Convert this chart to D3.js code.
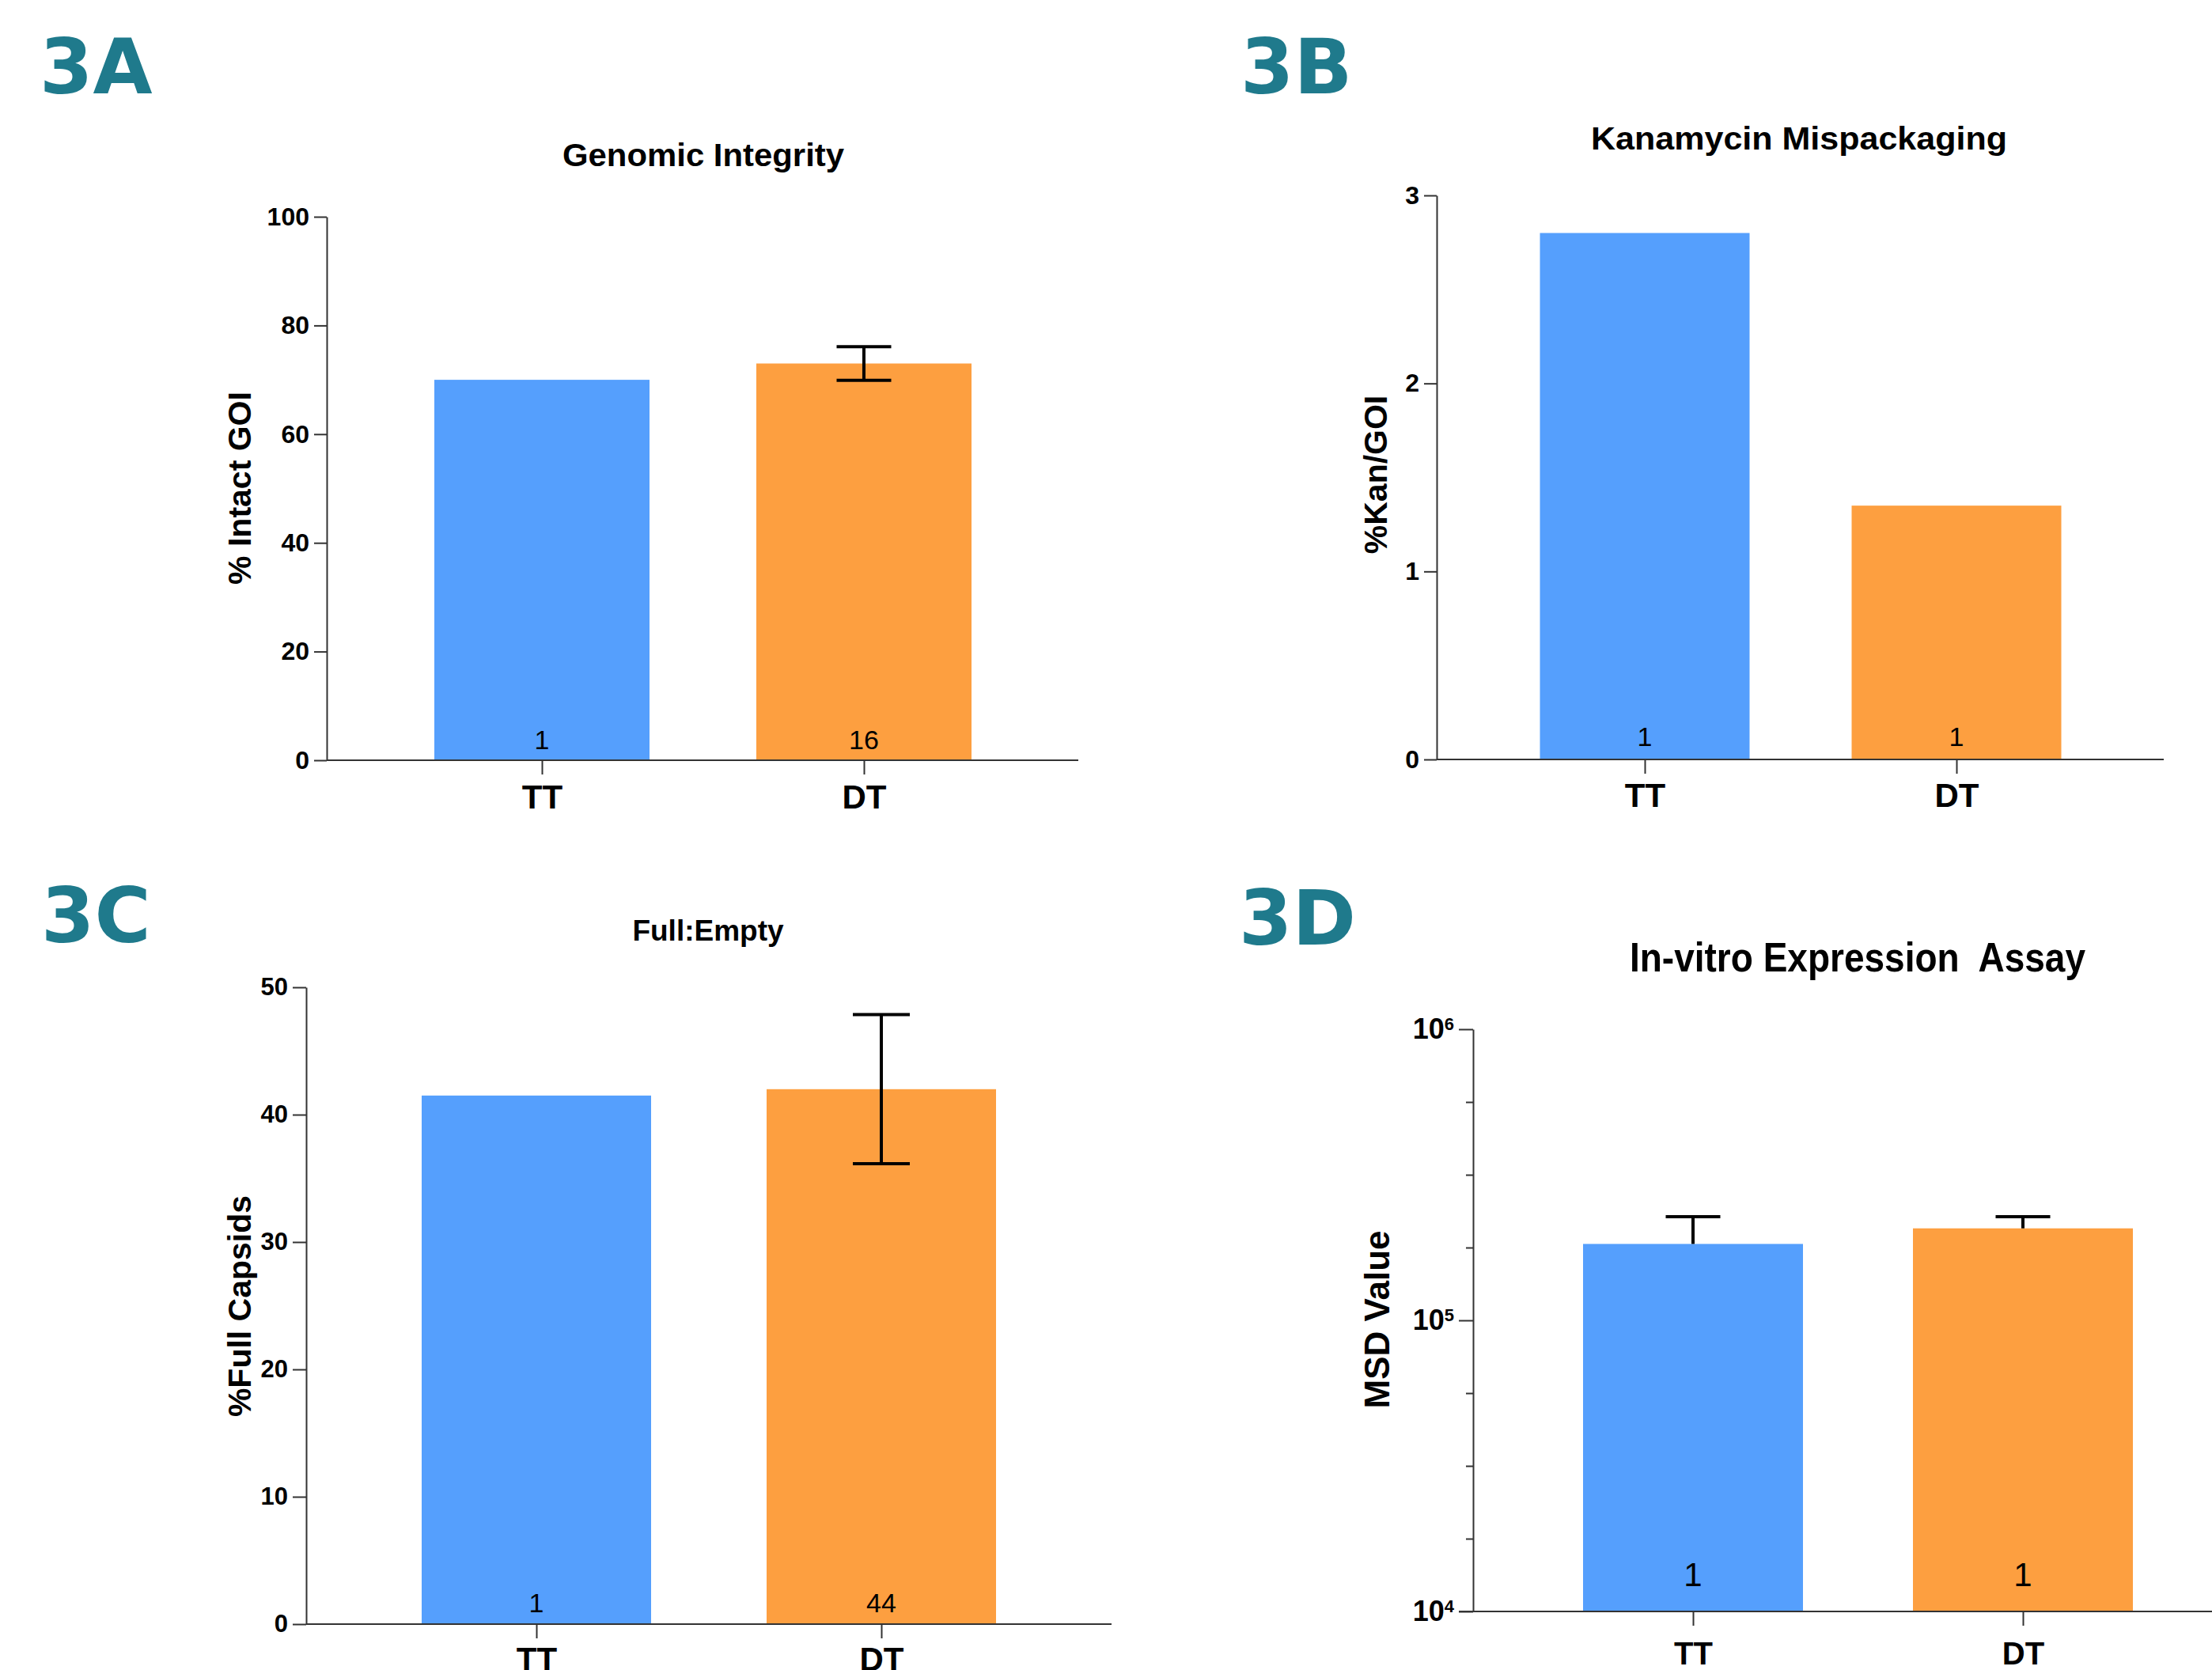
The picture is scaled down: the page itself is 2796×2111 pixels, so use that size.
<!DOCTYPE html>
<html>
<head>
<meta charset="utf-8">
<script src="https://cdn.jsdelivr.net/npm/d3@7"></script>
<style>
  body { margin: 0; background: #fff; }
  svg { display: block; }
  text { font-family: "Liberation Sans", Arial, sans-serif; fill: #000; }
  .panel-tag { font-family: "DejaVu Sans", sans-serif; font-weight: bold; fill: #1f7a8c; }
</style>
</head>
<body>
<div id="chart"></div>
<script>
// data
var groups = ["TT", "DT"];
var barColors = ["#559ffd", "#fd9f40"];

var intactMean = [70, 73];
var intactErr = [0, 3.1];
var intactN = [1, 16];

var kanMean = [2.8, 1.35];
var kanErr = [0, 0];
var kanN = [1, 1];

var fullMean = [41.5, 42];
var fullErr = [0, 5.85];
var fullN = [1, 44];

var msdMean = [183000, 207000];
var msdErr = [44000, 20000];
var msdN = [1, 1];

var W = 2796, H = 2111;
var svg = d3.select("#chart").append("svg")
  .attr("width", W).attr("height", H);

function drawPanel(o) {
  var g = svg.append("g");
  var y = o.log ? d3.scaleLog() : d3.scaleLinear();
  y.domain(o.yDomain).range([o.yBottom, o.yTop]);
  var x = d3.scalePoint().domain(groups).range(o.xCenters);
  var base = y(o.yDomain[0]);

  // panel tag
  g.append("text").attr("class", "panel-tag")
    .attr("x", o.tag[1]).attr("y", o.tag[2])
    .style("font-size", "97px")
    .text(o.tag[0]);

  // title (keeps double spaces)
  var t = g.append("text")
    .attr("x", o.title[1]).attr("y", o.title[2])
    .attr("text-anchor", "middle")
    .style("white-space", "pre")
    .style("font-weight", "bold").style("font-size", o.title[3] + "px")
    .text(o.title[0]);
  if (o.title[4]) t.attr("textLength", o.title[4]).attr("lengthAdjust", "spacingAndGlyphs");

  // bars
  g.selectAll("rect.bar").data(groups).join("rect")
    .attr("class", "bar")
    .attr("x", function(d){ return x(d) - o.bw/2; })
    .attr("y", function(d,i){ return y(o.mean[i]); })
    .attr("width", o.bw)
    .attr("height", function(d,i){ return base - y(o.mean[i]); })
    .attr("fill", function(d,i){ return barColors[i]; });

  // error bars
  var eb = g.selectAll("g.err").data(groups.filter(function(d,i){ return o.err[i] > 0; }))
    .join("g").attr("class", "err")
    .attr("stroke", "#000").attr("stroke-width", 4);
  eb.each(function(d){
    var i = groups.indexOf(d);
    var hi = y(o.mean[i] + o.err[i]);
    var lo = o.upOnly ? y(o.mean[i]) : y(o.mean[i] - o.err[i]);
    var s = d3.select(this), cx = x(d);
    s.append("line").attr("x1", cx).attr("x2", cx).attr("y1", hi).attr("y2", lo);
    s.append("line").attr("x1", cx - o.cap/2).attr("x2", cx + o.cap/2).attr("y1", hi).attr("y2", hi);
    if (!o.upOnly)
      s.append("line").attr("x1", cx - o.cap/2).attr("x2", cx + o.cap/2).attr("y1", lo).attr("y2", lo);
  });

  // n labels
  g.selectAll("text.n").data(groups).join("text")
    .attr("class", "n")
    .attr("x", function(d){ return x(d); })
    .attr("y", base - o.nOffset)
    .attr("text-anchor", "middle")
    .style("font-size", o.nSize + "px")
    .text(function(d,i){ return o.n[i]; });

  // y axis
  var yAxis = d3.axisLeft(y).tickValues(o.ticks).tickSize(o.tickLen).tickSizeOuter(0).tickPadding(6)
    .tickFormat(o.log ? function(){ return ""; } : d3.format("d"));
  var ya = g.append("g").attr("transform", "translate(" + o.axisX + ",0)").call(yAxis);
  ya.selectAll("path,line").attr("stroke", "#333").attr("stroke-width", 2);
  ya.selectAll("text").style("font-weight", "bold").style("font-size", o.tickSize + "px")
    .style("font-family", "'Liberation Sans', Arial, sans-serif").attr("fill", "#000");
  if (o.log) {
    ya.selectAll(".tick text").each(function(d){
      var s = d3.select(this);
      s.text("10");
      s.append("tspan").attr("dy", "-0.5em").style("font-size", "22px")
        .text(Math.round(Math.log10(d)));
    });
    var minor = d3.axisLeft(y).tickValues(o.minor).tickSize(9).tickFormat(function(){ return ""; });
    var ym = g.append("g").attr("transform", "translate(" + o.axisX + ",0)").call(minor);
    ym.select(".domain").remove();
    ym.selectAll("line").attr("stroke", "#333").attr("stroke-width", 2);
  }

  // x axis
  g.append("line")
    .attr("x1", o.xStart).attr("x2", o.xEnd).attr("y1", base).attr("y2", base)
    .attr("stroke", "#333").attr("stroke-width", 2);
  var xa = g.append("g").attr("transform", "translate(0," + base + ")")
    .call(d3.axisBottom(x).tickSize(18).tickPadding(0));
  xa.select(".domain").remove();
  xa.selectAll("line").attr("stroke", "#333").attr("stroke-width", 2);
  xa.selectAll("text").attr("dy", null).attr("y", o.xLabelY - base)
    .style("font-weight", "bold").style("font-size", o.xLabelSize + "px")
    .style("font-family", "'Liberation Sans', Arial, sans-serif").attr("fill", "#000");

  // y label
  g.append("text")
    .attr("transform", "translate(" + o.yLabel[1] + "," + o.yLabel[2] + ") rotate(-90)")
    .attr("text-anchor", "middle").attr("dy", "0.35em")
    .style("font-weight", "bold").style("font-size", o.yLabel[3] + "px")
    .text(o.yLabel[0]);
}

drawPanel({
  tag: ["3A", 50, 118],
  title: ["Genomic Integrity", 889, 210, 40, 356],
  mean: intactMean, err: intactErr, n: intactN,
  yDomain: [0, 100], yBottom: 961, yTop: 274, ticks: d3.range(0, 101, 20),
  axisX: 413, tickLen: 16, tickSize: 32,
  xCenters: [685, 1092], bw: 272, cap: 69,
  xStart: 413, xEnd: 1363, xLabelY: 1022, xLabelSize: 42,
  nOffset: 14, nSize: 34,
  yLabel: ["% Intact GOI", 303, 617, 41]
});

drawPanel({
  tag: ["3B", 1568, 118],
  title: ["Kanamycin Mispackaging", 2274, 189, 40, 526],
  mean: kanMean, err: kanErr, n: kanN,
  yDomain: [0, 3], yBottom: 960, yTop: 247, ticks: [0, 1, 2, 3],
  axisX: 1816, tickLen: 16, tickSize: 32,
  xCenters: [2079, 2473], bw: 265, cap: 69,
  xStart: 1816, xEnd: 2735, xLabelY: 1020, xLabelSize: 42,
  nOffset: 17, nSize: 34,
  yLabel: ["%Kan/GOI", 1739, 600, 41]
});

drawPanel({
  tag: ["3C", 52, 1191],
  title: ["Full:Empty", 895, 1189, 37],
  mean: fullMean, err: fullErr, n: fullN,
  yDomain: [0, 50], yBottom: 2053, yTop: 1248, ticks: d3.range(0, 51, 10),
  axisX: 387, tickLen: 17, tickSize: 31,
  xCenters: [678, 1114], bw: 290, cap: 72,
  xStart: 387, xEnd: 1405, xLabelY: 2112, xLabelSize: 42,
  nOffset: 15, nSize: 34,
  yLabel: ["%Full Capsids", 303, 1651, 41]
});

drawPanel({
  tag: ["3D", 1566, 1194],
  title: ["In-vitro Expression  Assay", 2348, 1228, 52, 576],
  mean: msdMean, err: msdErr, n: msdN, upOnly: true,
  log: true, yDomain: [1e4, 1e6], yBottom: 2037, yTop: 1301, ticks: [1e4, 1e5, 1e6],
  minor: [4.25, 4.5, 4.75, 5.25, 5.5, 5.75].map(function(e){ return Math.pow(10, e); }),
  axisX: 1862, tickLen: 18, tickSize: 36,
  xCenters: [2140, 2557], bw: 278, cap: 69,
  xStart: 1844, xEnd: 2796, xLabelY: 2104, xLabelSize: 40,
  nOffset: 32, nSize: 42,
  yLabel: ["MSD Value", 1741, 1668, 44]
});
</script>
</body>
</html>
